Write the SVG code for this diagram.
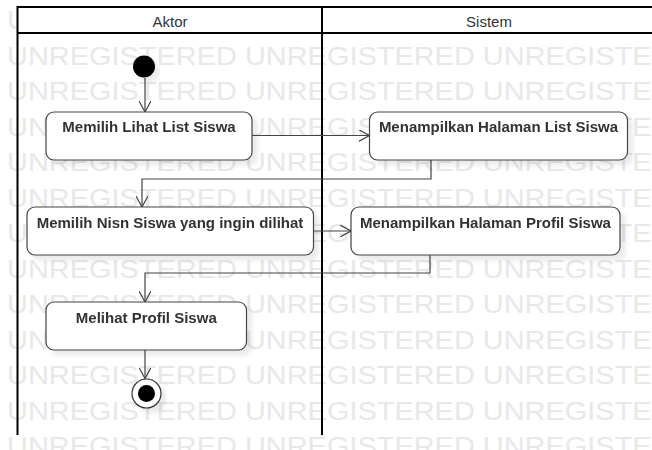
<svg xmlns="http://www.w3.org/2000/svg" width="652" height="450" viewBox="0 0 652 450">
<style>
.wm { font-family: "Liberation Sans", Arial, sans-serif; font-size: 25.3px; fill: #e8e8e8; }
.lane { stroke: #000; stroke-width: 2; fill: none; }
.hdr { font-family: "Liberation Sans", Arial, sans-serif; font-size: 15px; fill: #333; text-anchor: middle; }
.act rect { fill: #fff; stroke: #444; stroke-width: 1.2; }
.act text { font-family: "Liberation Sans", Arial, sans-serif; font-weight: bold; font-size: 15px; fill: #333; text-anchor: middle; }
.edge { stroke: #444; stroke-width: 1.2; fill: none; marker-end: url(#arr); }
</style>
<defs>
<marker id="arr" viewBox="0 0 12 12" refX="11" refY="6" markerWidth="12" markerHeight="12" markerUnits="userSpaceOnUse" orient="auto">
<path d="M0,0 L11,6 L0,12" fill="none" stroke="#444" stroke-width="1.2"/>
</marker>
<filter id="sh" x="-10%" y="-20%" width="130%" height="160%">
<feDropShadow dx="5" dy="5" stdDeviation="2" flood-color="#000" flood-opacity="0.08"/>
</filter>
</defs>
<rect width="652" height="450" fill="#fff"/>
<g id="watermark" transform="translate(7,0) scale(1.144,1)">
<text class="wm" x="0" y="29.5">UNREGISTERED UNREGISTERED UNREGISTERED</text>
<text class="wm" x="0" y="65">UNREGISTERED UNREGISTERED UNREGISTERED</text>
<text class="wm" x="0" y="100.5">UNREGISTERED UNREGISTERED UNREGISTERED</text>
<text class="wm" x="0" y="136">UNREGISTERED UNREGISTERED UNREGISTERED</text>
<text class="wm" x="0" y="171.5">UNREGISTERED UNREGISTERED UNREGISTERED</text>
<text class="wm" x="0" y="207">UNREGISTERED UNREGISTERED UNREGISTERED</text>
<text class="wm" x="0" y="242.5">UNREGISTERED UNREGISTERED UNREGISTERED</text>
<text class="wm" x="0" y="278">UNREGISTERED UNREGISTERED UNREGISTERED</text>
<text class="wm" x="0" y="313.5">UNREGISTERED UNREGISTERED UNREGISTERED</text>
<text class="wm" x="0" y="349">UNREGISTERED UNREGISTERED UNREGISTERED</text>
<text class="wm" x="0" y="384.5">UNREGISTERED UNREGISTERED UNREGISTERED</text>
<text class="wm" x="0" y="420">UNREGISTERED UNREGISTERED UNREGISTERED</text>
<text class="wm" x="0" y="455.5">UNREGISTERED UNREGISTERED UNREGISTERED</text>
</g>
<g id="swimlanes">
<rect x="17.5" y="7" width="640" height="26" fill="#fff"/>
<path class="lane" d="M16.5,7 H660 M17.5,33 H660 M17.5,6 V435 M322,6 V435"/>
<text class="hdr" x="170" y="26.5">Aktor</text>
<text class="hdr" x="489" y="26.5">Sistem</text>
</g>
<g id="connectors">
<path class="edge" d="M145,78 V112"/>
<path class="edge" d="M252,135.5 H369.5"/>
<path class="edge" d="M431,160 V179 H142 V207"/>
<path class="edge" d="M313.5,231 H351"/>
<path class="edge" d="M430,255 V273 H145 V302"/>
<path class="edge" d="M145,350 V378.5"/>
</g>
<g id="initial" filter="url(#sh)">
<circle cx="144" cy="66.5" r="11" fill="#000"/>
</g>
<g id="act1" class="act" filter="url(#sh)">
<rect x="46" y="112" width="206" height="48" rx="8"/>
<text x="149" y="132">Memilih Lihat List Siswa</text>
</g>
<g id="act2" class="act" filter="url(#sh)">
<rect x="369.5" y="112" width="258" height="48" rx="8"/>
<text x="498.5" y="132">Menampilkan Halaman List Siswa</text>
</g>
<g id="act3" class="act" filter="url(#sh)">
<rect x="27" y="207" width="286.5" height="48" rx="8"/>
<text x="170" y="228">Memilih Nisn Siswa yang ingin dilihat</text>
</g>
<g id="act4" class="act" filter="url(#sh)">
<rect x="351" y="207" width="269" height="48" rx="8"/>
<text x="485.5" y="228">Menampilkan Halaman Profil Siswa</text>
</g>
<g id="act5" class="act" filter="url(#sh)">
<rect x="46" y="302" width="200.5" height="48" rx="8"/>
<text x="146.3" y="322.5">Melihat Profil Siswa</text>
</g>
<g id="final" filter="url(#sh)">
<circle cx="146.5" cy="393.5" r="14.5" fill="#fff" stroke="#333" stroke-width="1.2"/>
<circle cx="146.5" cy="393.5" r="8.5" fill="#000"/>
</g>
</svg>
